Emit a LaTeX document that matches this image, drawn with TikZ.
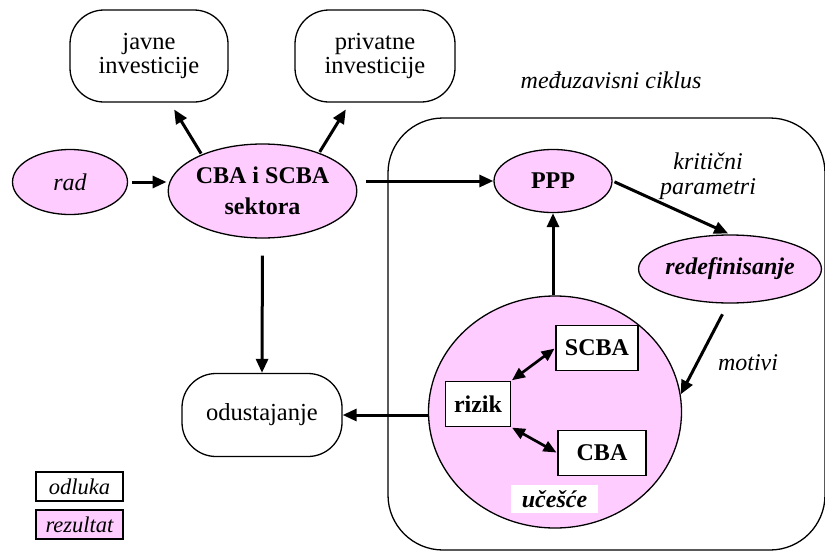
\documentclass[tikz,border=0pt]{standalone}
\usepackage{fontspec}
\setmainfont{Liberation Serif}
\usetikzlibrary{shapes.geometric,arrows.meta}
\definecolor{roza}{RGB}{255,204,255}
\tikzset{
  odluka/.style={draw, line width=1.3pt, rounded corners=34pt, inner sep=0pt, align=center, font=\fontsize{24.5}{24.5}\selectfont},
  rezultat/.style={ellipse, draw, line width=1.3pt, fill=roza, inner sep=0pt, align=center},
  okvir/.style={draw, line width=1.3pt, fill=white, inner sep=0pt, font=\fontsize{24}{24}\selectfont\bfseries},
  strelica/.style={line width=3pt, -{Triangle[length=14pt,width=12pt]}},
  dvostruka/.style={line width=2.7pt, {Triangle[length=13pt,width=11pt]}-{Triangle[length=13pt,width=11pt]}},
  opis/.style={font=\fontsize{24}{25}\selectfont\itshape, align=center}
}
\begin{document}
\begin{tikzpicture}[x=1pt,y=-1pt]
\useasboundingbox (0,0) rectangle (825,552);
% Draw the cycle frame first
\node[draw, line width=1.3pt, rounded corners=55pt, minimum width=437pt, minimum height=432pt] (ciklus) at (606.5,334) {};
\node[opis] (naslov) at (611,80) {međuzavisni ciklus};
% Decisions (white rounded boxes)
\node[odluka, minimum width=158pt, minimum height=92pt] (javne) at (149,56) {javne\\investicije};
\node[odluka, minimum width=160pt, minimum height=92pt] (privatne) at (375,56) {privatne\\investicije};
\node[odluka, minimum width=160pt, minimum height=83pt] (odust) at (262,415) {odustajanje};
% Results (pink ellipses)
\node[rezultat, minimum width=115pt, minimum height=65pt, font=\fontsize{24}{24}\selectfont\itshape] (rad) at (70,182) {rad};
\node[rezultat, minimum width=169pt, minimum height=94pt, font=\fontsize{24}{31}\selectfont\bfseries] (cba) at (262.5,191) {CBA i SCBA\\sektora};
\node[rezultat, minimum width=118pt, minimum height=63pt, font=\fontsize{24}{24}\selectfont\bfseries] (ppp) at (553,181) {PPP};
\node[rezultat, minimum width=175pt, minimum height=68pt, font=\fontsize{24}{24}\selectfont\bfseries\itshape] (redef) at (730,269) {redefinisanje};
\node[rezultat, minimum width=253pt, minimum height=232pt] (ucesce) at (555,412) {};
% Boxes inside the participation circle
\node[okvir, minimum width=82pt, minimum height=45pt] (scba) at (597,348) {SCBA};
\node[okvir, minimum width=65pt, minimum height=45pt] (rizik) at (478,404) {rizik};
\node[okvir, minimum width=88pt, minimum height=45pt] (cbab) at (602,453) {CBA};
\node[fill=white, inner sep=0pt, minimum width=87pt, minimum height=28pt, font=\fontsize{24}{24}\selectfont\bfseries\itshape] (uclab) at (554.5,499) {učešće};
% Edge labels
\node[opis] (krit) at (708,176) {kritični\\parametri};
\node[opis] (motivi) at (748,363) {motivi};
% Legend
\node[draw, line width=1.3pt, minimum width=87pt, minimum height=29pt, inner sep=0pt, font=\fontsize{22.5}{24}\selectfont\itshape] (leg1) at (79.5,486.5) {odluka};
\node[draw, line width=1.3pt, fill=roza, minimum width=87pt, minimum height=29pt, inner sep=0pt, font=\fontsize{22.5}{24}\selectfont\itshape] (leg2) at (79.5,524.5) {rezultat};
% Arrows
\draw[strelica, shorten <=4pt, shorten >=1pt] (rad.east) -- (rad.east -| cba.west);
\draw[strelica, shorten <=1pt, shorten >=8pt] (cba.149) -- ([xshift=21pt]javne.south);
\draw[strelica, shorten <=1pt, shorten >=8pt] (cba.34) -- ([xshift=-25pt]privatne.south);
\draw[strelica, shorten <=9pt] (cba.east |- ppp.west) -- (ppp.west);
\draw[strelica, shorten <=17pt] (cba.south) -- (odust.north);
\draw[strelica] (ucesce.west |- odust.east) -- (odust.east);
\draw[strelica] (ucesce.north -| ppp.south) -- (ppp.south);
\draw[strelica, shorten <=2pt, shorten >=2pt] (ppp.east) -- (redef.north);
\draw[strelica, shorten <=12pt] ([xshift=-2pt]redef.south) -- (ucesce.8);
\draw[dvostruka, shorten <=1pt, shorten >=1pt] (rizik.north east) -- (scba.west);
\draw[dvostruka, shorten <=1pt, shorten >=1pt] (rizik.south east) -- (cbab.west);
\end{tikzpicture}
\end{document}
